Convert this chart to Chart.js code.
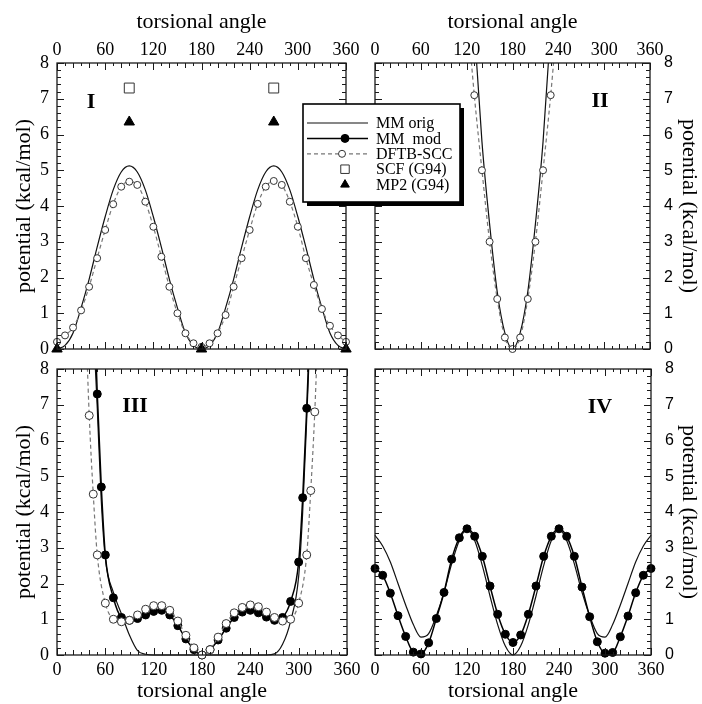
<!DOCTYPE html>
<html>
<head>
<meta charset="utf-8">
<title>torsional potentials</title>
<script src="https://cdn.jsdelivr.net/npm/chart.js@4.4.0/dist/chart.umd.min.js"></script>
<style>
  body { margin: 0; background: #fff; }
  #wrap { position: relative; width: 702px; height: 704px; }
  #wrap canvas { position: absolute; left: 0; top: 0; }
</style>
</head>
<body>
<div id="wrap">
  <canvas id="p2" width="702" height="704"></canvas>
  <canvas id="p3" width="702" height="704"></canvas>
  <canvas id="p4" width="702" height="704"></canvas>
  <canvas id="p1" width="702" height="704"></canvas>
</div>
<script>
// Axis texts and ticks
const xTitle = 'torsional angle';
const yTitle = 'potential (kcal/mol)';
const angleTicks = [0, 60, 120, 180, 240, 300, 360];
const potTicks = [0, 1, 2, 3, 4, 5, 6, 7, 8];
const seriesNames = ['MM orig', 'MM  mod', 'DFTB-SCC', 'SCF (G94)', 'MP2 (G94)'];
const panelNames = ['I', 'II', 'III', 'IV'];

// every 10 degrees
const angles10 = [0, 10, 20, 30, 40, 50, 60, 70, 80, 90, 100, 110, 120, 130, 140, 150, 160, 170, 180,
  190, 200, 210, 220, 230, 240, 250, 260, 270, 280, 290, 300, 310, 320, 330, 340, 350, 360];

// Panel I
const mmOrigI = [0, 0.1, 0.45, 1.15, 1.95, 2.85, 3.7, 4.45, 4.95, 5.12, 4.95, 4.45, 3.7, 2.85, 1.95, 1.15, 0.45, 0.1, 0,
  0.1, 0.45, 1.15, 1.95, 2.85, 3.7, 4.45, 4.95, 5.12, 4.95, 4.45, 3.7, 2.85, 1.95, 1.15, 0.45, 0.1, 0];
const dftbI = [0.2, 0.38, 0.6, 1.08, 1.74, 2.54, 3.33, 4.05, 4.54, 4.68, 4.59, 4.12, 3.42, 2.58, 1.74, 1.0, 0.44, 0.16, 0.06,
  0.16, 0.44, 0.95, 1.74, 2.54, 3.33, 4.06, 4.54, 4.7, 4.59, 4.12, 3.42, 2.54, 1.79, 1.12, 0.65, 0.38, 0.2];
const scfAngI = [90, 270];
const scfI = [7.3, 7.3];
const mp2AngI = [0, 90, 180, 270, 360];
const mp2I = [0, 6.35, 0, 6.35, 0];

// Panel II
const angII = [120, 130, 140, 150, 160, 170, 180, 190, 200, 210, 220, 230, 240];
const mmOrigII = [12.5, 9.0, 5.8, 3.5, 1.6, 0.45, 0, 0.45, 1.6, 3.5, 5.8, 9.0, 12.5];
const dftbII = [9.6, 7.1, 5.0, 3.0, 1.4, 0.32, 0, 0.32, 1.4, 3.0, 5.0, 7.1, 9.6];

// Panel III
const angOrigIII = [40, 45, 50, 55, 60, 70, 80, 90, 100, 110, 120, 130, 140, 150, 160, 170, 180,
  190, 200, 210, 220, 230, 240, 250, 260, 270, 280, 290, 300, 305, 310, 315, 320];
const mmOrigIII = [14, 9.5, 6.9, 4.3, 2.7, 1.75, 1.15, 0.55, 0.12, 0.02, 0, 0, 0, 0, 0, 0, 0,
  0, 0, 0, 0, 0, 0, 0, 0, 0.03, 0.3, 0.95, 2.2, 4.0, 6.6, 9.5, 13];
const angModIII = [45, 50, 55, 60, 70, 80, 90, 100, 110, 120, 130, 140, 150, 160, 170, 180,
  190, 200, 210, 220, 230, 240, 250, 260, 270, 280, 290, 300, 305, 310, 315];
const mmModIII = [10.5, 7.3, 4.7, 2.8, 1.6, 1.05, 0.97, 1.02, 1.12, 1.22, 1.25, 1.12, 0.82, 0.45, 0.15, 0,
  0.15, 0.42, 0.75, 1.05, 1.2, 1.25, 1.18, 1.06, 0.97, 1.05, 1.5, 2.6, 4.4, 6.9, 9.8];
const angDftbIII = [35, 40, 45, 50, 60, 70, 80, 90, 100, 110, 120, 130, 140, 150, 160, 170, 180,
  190, 200, 210, 220, 230, 240, 250, 260, 270, 280, 290, 300, 310, 315, 320, 325];
const dftbIII = [9.8, 6.7, 4.5, 2.8, 1.45, 1.0, 0.93, 0.97, 1.12, 1.28, 1.38, 1.38, 1.25, 0.95, 0.55, 0.2, 0,
  0.15, 0.5, 0.88, 1.18, 1.33, 1.4, 1.35, 1.2, 1.05, 0.95, 1.0, 1.45, 2.8, 4.6, 6.8, 9.8];

// Panel IV
const mmOrigIV = [3.35, 3.05, 2.6, 2.0, 1.4, 0.85, 0.5, 0.6, 1.1, 1.75, 2.55, 3.2, 3.52, 3.2, 2.5, 1.65, 0.85, 0.25, 0,
  0.25, 0.85, 1.65, 2.5, 3.2, 3.52, 3.2, 2.55, 1.75, 1.1, 0.6, 0.5, 0.85, 1.4, 2.0, 2.6, 3.05, 3.35];
const mmModIV = [2.42, 2.23, 1.73, 1.1, 0.52, 0.08, 0.03, 0.34, 1.02, 1.75, 2.68, 3.28, 3.53, 3.32, 2.76, 1.93, 1.14, 0.58, 0.35,
  0.56, 1.14, 1.93, 2.76, 3.32, 3.53, 3.32, 2.76, 1.9, 1.07, 0.37, 0.05, 0.07, 0.51, 1.09, 1.74, 2.23, 2.42];

const SERIF = "'Liberation Serif', 'Times New Roman', serif";
const SANS = "'Liberation Sans', Arial, sans-serif";

// styles per series (used by datasets and by the boxed legend)
const styles = {
  orig: { borderColor: '#111', borderWidth: 1.2, pointRadius: 0 },
  mod: { borderColor: '#000', borderWidth: 1.5, pointStyle: 'circle', pointRadius: 4,
    pointBackgroundColor: '#000', pointBorderColor: '#000', pointBorderWidth: 1 },
  dftb: { borderColor: '#777', borderWidth: 1.2, borderDash: [4, 3], pointStyle: 'circle', pointRadius: 3.5,
    pointBackgroundColor: '#fff', pointBorderColor: '#333', pointBorderWidth: 1 },
  scf: { showLine: false, pointStyle: 'rect', pointRadius: 7,
    pointBackgroundColor: '#fff', pointBorderColor: '#333', pointBorderWidth: 1 },
  mp2: { showLine: false, pointStyle: 'triangle', pointRadius: 6,
    pointBackgroundColor: '#000', pointBorderColor: '#000', pointBorderWidth: 1 }
};
const clipArea = { left: 10, top: 0, right: 10, bottom: 10 };

function pts(xs, ys) {
  return xs.map((x, i) => ({ x: x, y: ys[i] }));
}

function series(key, label, xs, ys, extra) {
  return Object.assign({ label: label, data: pts(xs, ys), cubicInterpolationMode: 'monotone', clip: clipArea },
    styles[key], extra || {});
}

// frame with inward ticks on all four sides
const framePlugin = {
  id: 'frame',
  afterDatasetsDraw(chart) {
    const { ctx, chartArea: a, scales: { x, y } } = chart;
    ctx.save();
    ctx.strokeStyle = '#1a1a1a';
    ctx.lineWidth = 1.3;
    ctx.strokeRect(a.left, a.top, a.right - a.left, a.bottom - a.top);
    ctx.lineWidth = 1;
    ctx.beginPath();
    for (let v = 0; v <= 360; v += 10) {
      const px = Math.round(x.getPixelForValue(v)) + 0.5;
      const len = v % 60 === 0 ? 7 : (v % 20 === 0 ? 5 : 3);
      ctx.moveTo(px, a.top); ctx.lineTo(px, a.top + len);
      ctx.moveTo(px, a.bottom); ctx.lineTo(px, a.bottom - len);
    }
    for (let i = 0; i <= 40; i++) {
      const py = Math.round(y.getPixelForValue(i / 5)) + 0.5;
      const len = i % 5 === 0 ? 7 : 4;
      ctx.moveTo(a.left, py); ctx.lineTo(a.left + len, py);
      ctx.moveTo(a.right, py); ctx.lineTo(a.right - len, py);
    }
    ctx.stroke();
    ctx.restore();
  }
};

const panelLabelPlugin = {
  id: 'panelLabel',
  afterDraw(chart, args, opts) {
    const ctx = chart.ctx;
    ctx.save();
    ctx.font = 'bold 22px ' + SERIF;
    ctx.fillStyle = '#000';
    ctx.textAlign = 'center';
    ctx.textBaseline = 'middle';
    ctx.fillText(opts.text, opts.x, opts.y);
    ctx.restore();
  }
};

// boxed legend with drop shadow (panel I)
const boxLegendPlugin = {
  id: 'boxLegend',
  afterDraw(chart) {
    const ctx = chart.ctx;
    const bx = 303, by = 104, bw = 157, bh = 98;
    ctx.save();
    ctx.fillStyle = '#000';
    ctx.fillRect(bx + 4, by + 4, bw, bh);
    ctx.fillStyle = '#fff';
    ctx.fillRect(bx, by, bw, bh);
    ctx.strokeStyle = '#000';
    ctx.lineWidth = 1.6;
    ctx.strokeRect(bx, by, bw, bh);

    const keys = ['orig', 'mod', 'dftb', 'scf', 'mp2'];
    const markX = [0, 345, 342, 345, 345];
    keys.forEach((key, i) => {
      const st = styles[key];
      const ry = 123 + i * 15.4;
      if (st.showLine !== false) {
        ctx.save();
        ctx.strokeStyle = st.borderColor;
        ctx.lineWidth = st.borderWidth;
        ctx.setLineDash(st.borderDash || []);
        ctx.beginPath();
        ctx.moveTo(307, ry); ctx.lineTo(368, ry);
        ctx.stroke();
        ctx.restore();
      }
      if (st.pointRadius > 0) {
        ctx.fillStyle = st.pointBackgroundColor;
        ctx.strokeStyle = st.pointBorderColor;
        ctx.lineWidth = st.pointBorderWidth;
        const r = key === 'scf' ? 6 : (key === 'mp2' ? 5 : st.pointRadius);
        Chart.helpers.drawPoint(ctx, { pointStyle: st.pointStyle, radius: r, rotation: 0, borderWidth: st.pointBorderWidth }, markX[i], ry);
      }
      ctx.fillStyle = '#000';
      ctx.font = '16px ' + SERIF;
      ctx.textAlign = 'left';
      ctx.textBaseline = 'middle';
      ctx.fillText(seriesNames[i], 376, ry + 1);
    });
    ctx.restore();
  }
};

function makePanel(id, cfg) {
  const top = cfg.xPos === 'top';
  const left = cfg.yPos === 'left';
  return new Chart(document.getElementById(id), {
    type: 'line',
    data: { datasets: cfg.datasets },
    options: {
      responsive: false,
      animation: false,
      devicePixelRatio: 1,
      events: [],
      layout: { padding: cfg.padding },
      plugins: {
        legend: { display: false },
        tooltip: { enabled: false },
        panelLabel: cfg.label
      },
      scales: {
        x: {
          type: 'linear', position: cfg.xPos, min: 0, max: 360,
          afterBuildTicks: s => { s.ticks = angleTicks.map(v => ({ value: v })); },
          afterFit: s => { s.height = cfg.xSize; },
          grid: { display: false, drawTicks: false },
          border: { display: false },
          ticks: { font: { family: SERIF, size: 18 }, color: '#000', padding: top ? 2 : 4, maxRotation: 0, autoSkip: false },
          title: { display: true, text: xTitle, color: '#000', font: { family: SERIF, size: 22 },
            padding: top ? { top: 9, bottom: 0 } : { top: 0, bottom: 0 } }
        },
        y: {
          type: 'linear', position: cfg.yPos, min: 0, max: 8,
          afterBuildTicks: s => { s.ticks = potTicks.map(v => ({ value: v })); },
          afterFit: s => { s.width = cfg.ySize; },
          grid: { display: false, drawTicks: false },
          border: { display: false },
          ticks: { font: { family: left ? SERIF : SANS, size: left ? 18 : 16 }, color: '#000', padding: left ? 8 : 14 },
          title: { display: true, text: yTitle, color: '#000', font: { family: SERIF, size: 22 },
            padding: left ? { top: 11, bottom: 0 } : { top: 0, bottom: 0 } }
        }
      }
    },
    plugins: [framePlugin, panelLabelPlugin].concat(cfg.extraPlugins || [])
  });
}

makePanel('p2', {
  xPos: 'top', yPos: 'right', xSize: 63, ySize: 52,
  padding: { left: 375, top: 0, right: 0, bottom: 355 },
  label: { text: panelNames[1], x: 600, y: 101 },
  datasets: [
    series('dftb', seriesNames[2], angII, dftbII),
    series('orig', seriesNames[0], angII, mmOrigII)
  ]
});

makePanel('p3', {
  xPos: 'bottom', yPos: 'left', xSize: 49, ySize: 57,
  padding: { left: 0, top: 369, right: 355, bottom: 0 },
  label: { text: panelNames[2], x: 135, y: 406 },
  datasets: [
    series('dftb', seriesNames[2], angDftbIII, dftbIII, { pointRadius: 4 }),
    series('mod', seriesNames[1], angModIII, mmModIII),
    series('orig', seriesNames[0], angOrigIII, mmOrigIII)
  ]
});

makePanel('p4', {
  xPos: 'bottom', yPos: 'right', xSize: 49, ySize: 51,
  padding: { left: 375, top: 369, right: 0, bottom: 0 },
  label: { text: panelNames[3], x: 600, y: 407 },
  datasets: [
    series('mod', seriesNames[1], angles10, mmModIV),
    series('orig', seriesNames[0], angles10, mmOrigIV)
  ]
});

makePanel('p1', {
  xPos: 'top', yPos: 'left', xSize: 63, ySize: 57,
  padding: { left: 0, top: 0, right: 356, bottom: 355 },
  label: { text: panelNames[0], x: 91, y: 102 },
  extraPlugins: [boxLegendPlugin],
  datasets: [
    series('mp2', seriesNames[4], mp2AngI, mp2I, { clip: false }),
    series('scf', seriesNames[3], scfAngI, scfI, { clip: false }),
    series('dftb', seriesNames[2], angles10, dftbI),
    series('orig', seriesNames[0], angles10, mmOrigI)
  ]
});
</script>
</body>
</html>
